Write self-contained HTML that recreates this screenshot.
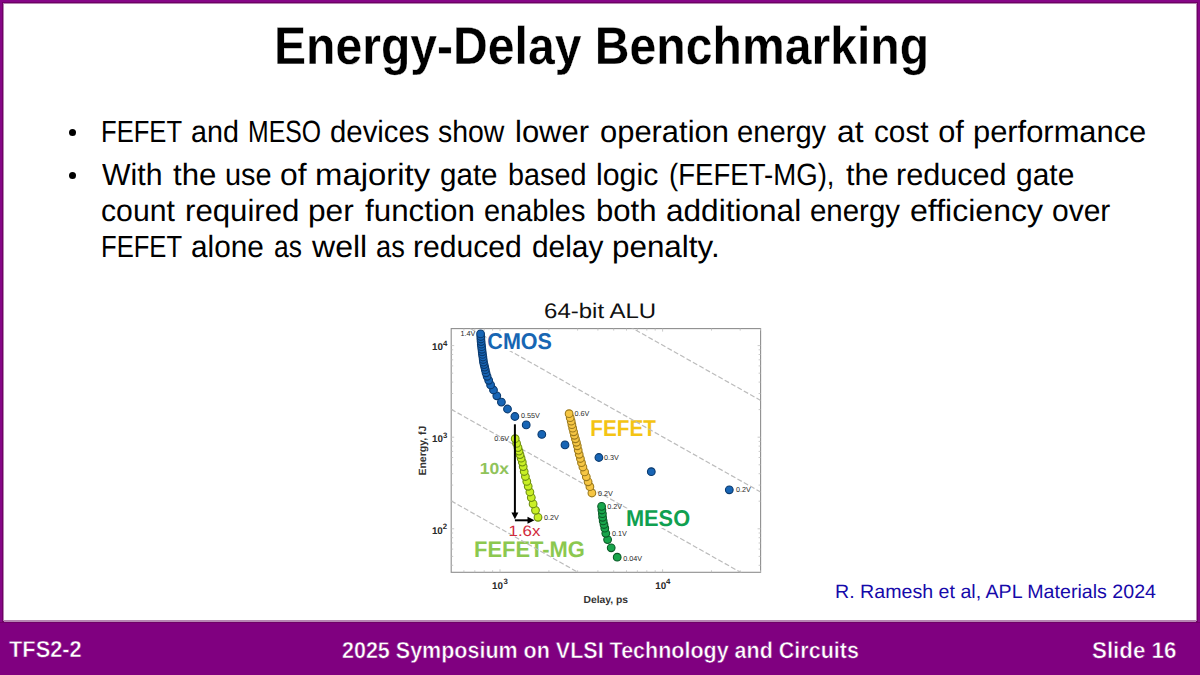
<!DOCTYPE html>
<html><head><meta charset="utf-8"><title>Energy-Delay Benchmarking</title>
<style>
html,body{margin:0;padding:0;}
body{width:1200px;height:675px;position:relative;overflow:hidden;background:#fff;font-family:"Liberation Sans",sans-serif;color:#000;text-rendering:geometricPrecision;}
.frame{position:absolute;left:0;top:0;width:1200px;height:622px;box-sizing:border-box;border:2px solid #860686;border-bottom:none;box-shadow:inset 0 0 0 1px #6e0066, inset 0 0 0 2px #b585b1;}
.foot{position:absolute;left:0;top:622px;width:1200px;height:53px;background:#800080;box-shadow:inset 0 1px 0 #700068;}
.fl{position:absolute;left:4px;top:621px;width:1192px;height:1px;background:#b784b4;}
.t{position:absolute;white-space:nowrap;line-height:1;transform-origin:0 0;}
.dot{position:absolute;width:7px;height:7px;border-radius:50%;background:#000;}
.chart{position:absolute;left:0;top:0;}
</style></head>
<body>
<div class="frame"></div>
<div class="foot"></div>
<div class="fl"></div>
<div class="t" style="left:274.08px;top:19.54px;font-size:53px;transform:scaleX(0.9077);font-weight:bold;-webkit-text-stroke:0.3px #fff;">Energy-Delay Benchmarking</div>
<div class="t" style="left:100.83px;top:117.21px;font-size:30.7px;transform:scaleX(0.8337)">FEFET</div>
<div class="t" style="left:190.77px;top:117.21px;font-size:30.7px;transform:scaleX(0.9347)">and</div>
<div class="t" style="left:247.58px;top:117.21px;font-size:30.7px;transform:scaleX(0.8080)">MESO</div>
<div class="t" style="left:329.84px;top:117.21px;font-size:30.7px;transform:scaleX(0.9559)">devices</div>
<div class="t" style="left:438.27px;top:117.21px;font-size:30.7px;transform:scaleX(0.9268)">show</div>
<div class="t" style="left:514.68px;top:117.21px;font-size:30.7px;transform:scaleX(1.0085)">lower</div>
<div class="t" style="left:599.79px;top:117.21px;font-size:30.7px;transform:scaleX(1.0072)">operation</div>
<div class="t" style="left:737.35px;top:117.21px;font-size:30.7px;transform:scaleX(0.9505)">energy</div>
<div class="t" style="left:837.26px;top:117.21px;font-size:30.7px;transform:scaleX(1.0360)">at</div>
<div class="t" style="left:874.03px;top:117.21px;font-size:30.7px;transform:scaleX(0.9691)">cost</div>
<div class="t" style="left:938.20px;top:117.21px;font-size:30.7px;transform:scaleX(1.0000)">of</div>
<div class="t" style="left:972.99px;top:117.21px;font-size:30.7px;transform:scaleX(1.0059)">performance</div>
<div class="dot" style="left:69.2px;top:128.9px"></div>
<div class="t" style="left:101.70px;top:160.41px;font-size:30.7px;transform:scaleX(0.9850)">With</div>
<div class="t" style="left:173.30px;top:160.41px;font-size:30.7px;transform:scaleX(1.0171)">the</div>
<div class="t" style="left:224.82px;top:160.41px;font-size:30.7px;transform:scaleX(0.9413)">use</div>
<div class="t" style="left:279.76px;top:160.41px;font-size:30.7px;transform:scaleX(1.0360)">of</div>
<div class="t" style="left:315.36px;top:160.41px;font-size:30.7px;transform:scaleX(1.0714)">majority</div>
<div class="t" style="left:439.84px;top:160.41px;font-size:30.7px;transform:scaleX(0.9638)">gate</div>
<div class="t" style="left:508.12px;top:160.41px;font-size:30.7px;transform:scaleX(0.9375)">based</div>
<div class="t" style="left:595.53px;top:160.41px;font-size:30.7px;transform:scaleX(0.9867)">logic</div>
<div class="t" style="left:669.00px;top:160.41px;font-size:30.7px;transform:scaleX(0.8989)">(FEFET-MG),</div>
<div class="t" style="left:845.80px;top:160.41px;font-size:30.7px;transform:scaleX(0.9976)">the</div>
<div class="t" style="left:896.31px;top:160.41px;font-size:30.7px;transform:scaleX(0.9972)">reduced</div>
<div class="t" style="left:1015.72px;top:160.41px;font-size:30.7px;transform:scaleX(0.9759)">gate</div>
<div class="dot" style="left:69.2px;top:172.1px"></div>
<div class="t" style="left:101.22px;top:195.91px;font-size:30.7px;transform:scaleX(0.9838)">count</div>
<div class="t" style="left:185.47px;top:195.91px;font-size:30.7px;transform:scaleX(1.0165)">required</div>
<div class="t" style="left:307.94px;top:195.91px;font-size:30.7px;transform:scaleX(1.0310)">per</div>
<div class="t" style="left:365.00px;top:195.91px;font-size:30.7px;transform:scaleX(1.0217)">function</div>
<div class="t" style="left:484.06px;top:195.91px;font-size:30.7px;transform:scaleX(0.9434)">enables</div>
<div class="t" style="left:596.28px;top:195.91px;font-size:30.7px;transform:scaleX(1.0125)">both</div>
<div class="t" style="left:666.47px;top:195.91px;font-size:30.7px;transform:scaleX(1.0289)">additional</div>
<div class="t" style="left:809.84px;top:195.91px;font-size:30.7px;transform:scaleX(0.9591)">energy</div>
<div class="t" style="left:909.75px;top:195.91px;font-size:30.7px;transform:scaleX(1.0452)">efficiency</div>
<div class="t" style="left:1052.32px;top:195.91px;font-size:30.7px;transform:scaleX(0.9776)">over</div>
<div class="t" style="left:100.83px;top:232.11px;font-size:30.7px;transform:scaleX(0.8337)">FEFET</div>
<div class="t" style="left:190.73px;top:232.11px;font-size:30.7px;transform:scaleX(0.9699)">alone</div>
<div class="t" style="left:274.14px;top:232.11px;font-size:30.7px;transform:scaleX(0.8600)">as</div>
<div class="t" style="left:311.70px;top:232.11px;font-size:30.7px;transform:scaleX(1.0451)">well</div>
<div class="t" style="left:375.81px;top:232.11px;font-size:30.7px;transform:scaleX(0.8867)">as</div>
<div class="t" style="left:413.04px;top:232.11px;font-size:30.7px;transform:scaleX(0.9813)">reduced</div>
<div class="t" style="left:531.53px;top:232.11px;font-size:30.7px;transform:scaleX(0.9722)">delay</div>
<div class="t" style="left:612.15px;top:232.11px;font-size:30.7px;transform:scaleX(1.0228)">penalty.</div>
<div class="t" style="left:834.78px;top:582.56px;font-size:19.3px;transform:scaleX(1.0175);color:#1609aa;">R. Ramesh et al, APL Materials 2024</div>
<div class="t" style="left:9.20px;top:637.53px;font-size:23px;transform:scaleX(0.9480);color:#fff;font-weight:bold;-webkit-text-stroke:0.5px #800080;">TFS2-2</div>
<div class="t" style="left:341.97px;top:638.83px;font-size:23px;transform:scaleX(0.9347);color:#fff;font-weight:bold;-webkit-text-stroke:0.5px #800080;">2025 Symposium on VLSI Technology and Circuits</div>
<div class="t" style="left:1091.53px;top:639.03px;font-size:23px;transform:scaleX(0.9706);color:#fff;font-weight:bold;-webkit-text-stroke:0.5px #800080;">Slide 16</div>

<svg class="chart" width="1200" height="675" viewBox="0 0 1200 675" font-family="Liberation Sans, sans-serif"><clipPath id="cb"><rect x="451.2" y="328.6" width="309.40000000000003" height="243.69999999999993"/></clipPath>
<rect x="451.2" y="328.6" width="309.40000000000003" height="243.69999999999993" fill="none" stroke="#8e8e8e" stroke-width="1.1"/>
<path d="M463.9 572.3v-2M463.9 328.6v2M474.8 572.3v-2M474.8 328.6v2M484.2 572.3v-2M484.2 328.6v2M492.6 572.3v-2M492.6 328.6v2M500.0 572.3v-3M500.0 328.6v3M548.9 572.3v-2M548.9 328.6v2M577.6 572.3v-2M577.6 328.6v2M597.9 572.3v-2M597.9 328.6v2M613.7 572.3v-2M613.7 328.6v2M626.5 572.3v-2M626.5 328.6v2M637.4 572.3v-2M637.4 328.6v2M646.8 572.3v-2M646.8 328.6v2M655.2 572.3v-2M655.2 328.6v2M662.6 572.3v-3M662.6 328.6v3M711.5 572.3v-2M711.5 328.6v2M740.2 572.3v-2M740.2 328.6v2M760.5 572.3v-2M760.5 328.6v2M451.2 565.3h2M760.6 565.3h-2M451.2 556.4h2M760.6 556.4h-2M451.2 549.1h2M760.6 549.1h-2M451.2 543.0h2M760.6 543.0h-2M451.2 537.7h2M760.6 537.7h-2M451.2 533.0h2M760.6 533.0h-2M451.2 528.8h3M760.6 528.8h-3M451.2 501.2h2M760.6 501.2h-2M451.2 485.1h2M760.6 485.1h-2M451.2 473.7h2M760.6 473.7h-2M451.2 464.8h2M760.6 464.8h-2M451.2 457.5h2M760.6 457.5h-2M451.2 451.4h2M760.6 451.4h-2M451.2 446.1h2M760.6 446.1h-2M451.2 441.4h2M760.6 441.4h-2M451.2 437.2h3M760.6 437.2h-3M451.2 409.6h2M760.6 409.6h-2M451.2 393.5h2M760.6 393.5h-2M451.2 382.1h2M760.6 382.1h-2M451.2 373.2h2M760.6 373.2h-2M451.2 365.9h2M760.6 365.9h-2M451.2 359.8h2M760.6 359.8h-2M451.2 354.5h2M760.6 354.5h-2M451.2 349.8h2M760.6 349.8h-2M451.2 345.6h3M760.6 345.6h-3" stroke="#bdbdbd" stroke-width="0.8" fill="none"/>
<text x="432.0" y="350.4" font-size="9.8" font-weight="bold" fill="#2a2a2a">10</text><text x="442.9" y="345.7" font-size="7.8" font-weight="bold" fill="#2a2a2a">4</text>
<text x="432.0" y="442.2" font-size="9.8" font-weight="bold" fill="#2a2a2a">10</text><text x="442.9" y="437.5" font-size="7.8" font-weight="bold" fill="#2a2a2a">3</text>
<text x="431.9" y="533.9" font-size="9.8" font-weight="bold" fill="#2a2a2a">10</text><text x="442.8" y="529.2" font-size="7.8" font-weight="bold" fill="#2a2a2a">2</text>
<text x="492.0" y="588.6" font-size="9.8" font-weight="bold" fill="#2a2a2a">10</text><text x="503.4" y="583.9" font-size="7.8" font-weight="bold" fill="#2a2a2a">3</text>
<text x="655.2" y="588.6" font-size="9.8" font-weight="bold" fill="#2a2a2a">10</text><text x="666.1" y="583.9" font-size="7.8" font-weight="bold" fill="#2a2a2a">4</text>
<text x="583.6" y="603" font-size="10.3" font-weight="bold" fill="#333">Delay, ps</text>
<text transform="translate(425.9 475.6) rotate(-90)" font-size="10.5" font-weight="bold" fill="#333">Energy, fJ</text>
<text transform="translate(544.06 317.8) scale(1.1427 1)" font-size="21" fill="#111">64-bit ALU</text>
<text transform="translate(590.29 436.4) scale(0.9092 1)" font-size="22.8" font-weight="bold" fill="#f4c414">FEFET</text>
<text transform="translate(474.03 557.0) scale(0.9732 1)" font-size="22.5" font-weight="bold" fill="#8cc84f">FEFET-MG</text>
<g clip-path="url(#cb)" stroke="#bcbcbc" stroke-width="1.2" stroke-dasharray="5 2.3"><line x1="451.2" y1="226.1" x2="760.6" y2="400.4"/><line x1="451.2" y1="317.7" x2="760.6" y2="492.0"/><line x1="451.2" y1="409.3" x2="760.6" y2="583.6"/><line x1="451.2" y1="500.9" x2="760.6" y2="675.2"/></g>
<rect x="486.5" y="331" width="68" height="20" fill="#fff"/>
<text transform="translate(487.36 349.0) scale(0.9448 1)" font-size="22.8" font-weight="bold" fill="#1766b3">CMOS</text>
<rect x="625" y="508.5" width="66" height="19.5" fill="#fff"/>
<text transform="translate(625.94 525.8) scale(0.9554 1)" font-size="22.8" font-weight="bold" fill="#10a050">MESO</text>
<circle cx="514.9" cy="416.5" r="3.85" fill="#1865b5" stroke="#0b3a6e" stroke-width="1.1"/><circle cx="507.5" cy="409.0" r="3.85" fill="#1865b5" stroke="#0b3a6e" stroke-width="1.1"/><circle cx="501.4" cy="402.1" r="3.85" fill="#1865b5" stroke="#0b3a6e" stroke-width="1.1"/><circle cx="496.8" cy="395.8" r="3.85" fill="#1865b5" stroke="#0b3a6e" stroke-width="1.1"/><circle cx="493.5" cy="390.0" r="3.85" fill="#1865b5" stroke="#0b3a6e" stroke-width="1.1"/><circle cx="490.6" cy="384.9" r="3.85" fill="#1865b5" stroke="#0b3a6e" stroke-width="1.1"/><circle cx="488.7" cy="380.3" r="3.85" fill="#1865b5" stroke="#0b3a6e" stroke-width="1.1"/><circle cx="487.1" cy="376.3" r="3.85" fill="#1865b5" stroke="#0b3a6e" stroke-width="1.1"/><circle cx="486.0" cy="372.8" r="3.85" fill="#1865b5" stroke="#0b3a6e" stroke-width="1.1"/><circle cx="485.3" cy="369.7" r="3.85" fill="#1865b5" stroke="#0b3a6e" stroke-width="1.1"/><circle cx="484.7" cy="367.1" r="3.85" fill="#1865b5" stroke="#0b3a6e" stroke-width="1.1"/><circle cx="484.1" cy="364.6" r="3.85" fill="#1865b5" stroke="#0b3a6e" stroke-width="1.1"/><circle cx="483.5" cy="362.1" r="3.85" fill="#1865b5" stroke="#0b3a6e" stroke-width="1.1"/><circle cx="483.2" cy="359.5" r="3.85" fill="#1865b5" stroke="#0b3a6e" stroke-width="1.1"/><circle cx="482.9" cy="357.0" r="3.85" fill="#1865b5" stroke="#0b3a6e" stroke-width="1.1"/><circle cx="482.5" cy="354.4" r="3.85" fill="#1865b5" stroke="#0b3a6e" stroke-width="1.1"/><circle cx="482.2" cy="351.8" r="3.85" fill="#1865b5" stroke="#0b3a6e" stroke-width="1.1"/><circle cx="481.9" cy="349.3" r="3.85" fill="#1865b5" stroke="#0b3a6e" stroke-width="1.1"/><circle cx="481.6" cy="346.7" r="3.85" fill="#1865b5" stroke="#0b3a6e" stroke-width="1.1"/><circle cx="481.3" cy="344.2" r="3.85" fill="#1865b5" stroke="#0b3a6e" stroke-width="1.1"/><circle cx="481.1" cy="341.6" r="3.85" fill="#1865b5" stroke="#0b3a6e" stroke-width="1.1"/><circle cx="480.9" cy="339.0" r="3.85" fill="#1865b5" stroke="#0b3a6e" stroke-width="1.1"/><circle cx="480.8" cy="336.5" r="3.85" fill="#1865b5" stroke="#0b3a6e" stroke-width="1.1"/><circle cx="480.6" cy="333.9" r="3.85" fill="#1865b5" stroke="#0b3a6e" stroke-width="1.1"/>
<circle cx="526.2" cy="424.9" r="3.85" fill="#1865b5" stroke="#0b3a6e" stroke-width="1.1"/><circle cx="541.8" cy="434.4" r="3.85" fill="#1865b5" stroke="#0b3a6e" stroke-width="1.1"/><circle cx="565.0" cy="444.9" r="3.85" fill="#1865b5" stroke="#0b3a6e" stroke-width="1.1"/><circle cx="598.9" cy="457.5" r="3.85" fill="#1865b5" stroke="#0b3a6e" stroke-width="1.1"/><circle cx="651.3" cy="471.7" r="3.85" fill="#1865b5" stroke="#0b3a6e" stroke-width="1.1"/><circle cx="729.3" cy="489.8" r="3.85" fill="#1865b5" stroke="#0b3a6e" stroke-width="1.1"/>
<circle cx="591.9" cy="493.0" r="3.85" fill="#f6c644" stroke="#9c7a1c" stroke-width="1.1"/><circle cx="589.9" cy="486.7" r="3.85" fill="#f6c644" stroke="#9c7a1c" stroke-width="1.1"/><circle cx="588.1" cy="481.8" r="3.85" fill="#f6c644" stroke="#9c7a1c" stroke-width="1.1"/><circle cx="586.3" cy="476.8" r="3.85" fill="#f6c644" stroke="#9c7a1c" stroke-width="1.1"/><circle cx="584.6" cy="471.9" r="3.85" fill="#f6c644" stroke="#9c7a1c" stroke-width="1.1"/><circle cx="582.9" cy="467.0" r="3.85" fill="#f6c644" stroke="#9c7a1c" stroke-width="1.1"/><circle cx="581.5" cy="462.7" r="3.85" fill="#f6c644" stroke="#9c7a1c" stroke-width="1.1"/><circle cx="580.4" cy="458.5" r="3.85" fill="#f6c644" stroke="#9c7a1c" stroke-width="1.1"/><circle cx="579.2" cy="454.3" r="3.85" fill="#f6c644" stroke="#9c7a1c" stroke-width="1.1"/><circle cx="578.2" cy="450.1" r="3.85" fill="#f6c644" stroke="#9c7a1c" stroke-width="1.1"/><circle cx="577.3" cy="445.8" r="3.85" fill="#f6c644" stroke="#9c7a1c" stroke-width="1.1"/><circle cx="576.4" cy="442.3" r="3.85" fill="#f6c644" stroke="#9c7a1c" stroke-width="1.1"/><circle cx="575.4" cy="438.8" r="3.85" fill="#f6c644" stroke="#9c7a1c" stroke-width="1.1"/><circle cx="574.4" cy="435.3" r="3.85" fill="#f6c644" stroke="#9c7a1c" stroke-width="1.1"/><circle cx="573.6" cy="431.8" r="3.85" fill="#f6c644" stroke="#9c7a1c" stroke-width="1.1"/><circle cx="572.7" cy="428.2" r="3.85" fill="#f6c644" stroke="#9c7a1c" stroke-width="1.1"/><circle cx="571.9" cy="424.7" r="3.85" fill="#f6c644" stroke="#9c7a1c" stroke-width="1.1"/><circle cx="571.2" cy="421.2" r="3.85" fill="#f6c644" stroke="#9c7a1c" stroke-width="1.1"/><circle cx="570.2" cy="417.7" r="3.85" fill="#f6c644" stroke="#9c7a1c" stroke-width="1.1"/><circle cx="569.1" cy="413.7" r="3.85" fill="#f6c644" stroke="#9c7a1c" stroke-width="1.1"/>
<circle cx="538.0" cy="517.3" r="3.85" fill="#c9ef25" stroke="#6f8f12" stroke-width="1.1"/><circle cx="535.5" cy="510.3" r="3.85" fill="#c9ef25" stroke="#6f8f12" stroke-width="1.1"/><circle cx="533.1" cy="503.9" r="3.85" fill="#c9ef25" stroke="#6f8f12" stroke-width="1.1"/><circle cx="531.3" cy="497.6" r="3.85" fill="#c9ef25" stroke="#6f8f12" stroke-width="1.1"/><circle cx="529.9" cy="492.0" r="3.85" fill="#c9ef25" stroke="#6f8f12" stroke-width="1.1"/><circle cx="528.2" cy="486.3" r="3.85" fill="#c9ef25" stroke="#6f8f12" stroke-width="1.1"/><circle cx="526.8" cy="481.4" r="3.85" fill="#c9ef25" stroke="#6f8f12" stroke-width="1.1"/><circle cx="525.4" cy="476.5" r="3.85" fill="#c9ef25" stroke="#6f8f12" stroke-width="1.1"/><circle cx="524.2" cy="471.5" r="3.85" fill="#c9ef25" stroke="#6f8f12" stroke-width="1.1"/><circle cx="523.2" cy="466.6" r="3.85" fill="#c9ef25" stroke="#6f8f12" stroke-width="1.1"/><circle cx="522.3" cy="462.1" r="3.85" fill="#c9ef25" stroke="#6f8f12" stroke-width="1.1"/><circle cx="521.1" cy="458.2" r="3.85" fill="#c9ef25" stroke="#6f8f12" stroke-width="1.1"/><circle cx="520.0" cy="454.6" r="3.85" fill="#c9ef25" stroke="#6f8f12" stroke-width="1.1"/><circle cx="519.0" cy="451.1" r="3.85" fill="#c9ef25" stroke="#6f8f12" stroke-width="1.1"/><circle cx="518.0" cy="447.6" r="3.85" fill="#c9ef25" stroke="#6f8f12" stroke-width="1.1"/><circle cx="516.6" cy="443.4" r="3.85" fill="#c9ef25" stroke="#6f8f12" stroke-width="1.1"/><circle cx="515.2" cy="438.7" r="3.85" fill="#c9ef25" stroke="#6f8f12" stroke-width="1.1"/>
<circle cx="617.2" cy="557.2" r="3.85" fill="#18a54b" stroke="#0b5a27" stroke-width="1.1"/><circle cx="611.2" cy="547.8" r="3.85" fill="#18a54b" stroke="#0b5a27" stroke-width="1.1"/><circle cx="607.6" cy="539.6" r="3.85" fill="#18a54b" stroke="#0b5a27" stroke-width="1.1"/><circle cx="605.8" cy="533.3" r="3.85" fill="#18a54b" stroke="#0b5a27" stroke-width="1.1"/><circle cx="604.8" cy="528.2" r="3.85" fill="#18a54b" stroke="#0b5a27" stroke-width="1.1"/><circle cx="604.0" cy="524.5" r="3.85" fill="#18a54b" stroke="#0b5a27" stroke-width="1.1"/><circle cx="603.2" cy="520.9" r="3.85" fill="#18a54b" stroke="#0b5a27" stroke-width="1.1"/><circle cx="602.6" cy="517.3" r="3.85" fill="#18a54b" stroke="#0b5a27" stroke-width="1.1"/><circle cx="602.4" cy="513.7" r="3.85" fill="#18a54b" stroke="#0b5a27" stroke-width="1.1"/><circle cx="601.9" cy="510.0" r="3.85" fill="#18a54b" stroke="#0b5a27" stroke-width="1.1"/><circle cx="601.6" cy="506.4" r="3.85" fill="#18a54b" stroke="#0b5a27" stroke-width="1.1"/>
<path d="M514.9 424.3V514.5" stroke="#000" stroke-width="2"/>
<path d="M511.4 512.5L514.9 519.3L518.4 512.5Z" fill="#000"/>
<path d="M514.9 520.3H528" stroke="#000" stroke-width="2"/>
<path d="M527.5 516.8L534.5 520.3L527.5 523.8Z" fill="#000"/>
<text x="460.5" y="336.3" font-size="7.2" fill="#2a2a2a">1.4V</text>
<text x="520.9" y="418.0" font-size="7.2" fill="#2a2a2a">0.55V</text>
<text x="494.2" y="441.0" font-size="7.2" fill="#2a2a2a">0.6V</text>
<text x="574.4" y="415.6" font-size="7.2" fill="#2a2a2a">0.6V</text>
<text x="604.0" y="460.3" font-size="7.2" fill="#2a2a2a">0.3V</text>
<text x="598.1" y="495.9" font-size="7.2" fill="#2a2a2a">0.2V</text>
<text x="543.9" y="520.0" font-size="7.2" fill="#2a2a2a">0.2V</text>
<text x="607.3" y="509.2" font-size="7.2" fill="#2a2a2a">0.2V</text>
<text x="612.0" y="535.8" font-size="7.2" fill="#2a2a2a">0.1V</text>
<text x="623.3" y="560.5" font-size="7.2" fill="#2a2a2a">0.04V</text>
<text x="736.0" y="492.3" font-size="7.2" fill="#2a2a2a">0.2V</text>
<text transform="translate(479.70 474.4) scale(1.0960 1)" font-size="16" font-weight="bold" fill="#90c35a">10x</text>
<text transform="translate(508.58 536.1) scale(1.1222 1)" font-size="15.0" font-weight="normal" fill="#d12a3c">1.6x</text></svg>
</body></html>
